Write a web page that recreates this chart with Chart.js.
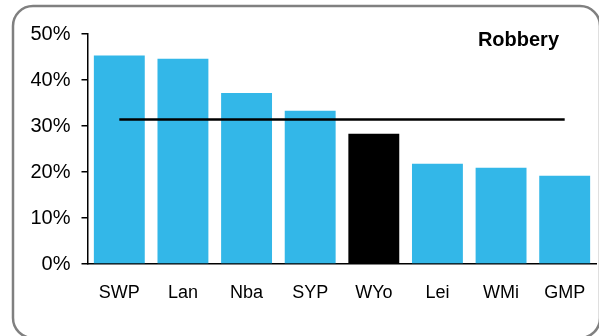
<!DOCTYPE html>
<html lang="en">
<head>
    <meta charset="UTF-8">
    <title>Robbery</title>
    <script src="https://cdn.jsdelivr.net/npm/chart.js"></script>
    <style>
        html, body { margin: 0; padding: 0; background: #ffffff; }
        #wrap { position: relative; width: 599px; height: 336px; }
    </style>
</head>
<body>
    <div id="wrap">
        <canvas id="robberyChart" width="599" height="336"></canvas>
    </div>

    <script>
        // data
        const forces = ['SWP', 'Lan', 'Nba', 'SYP', 'WYo', 'Lei', 'WMi', 'GMP'];
        const robberyRate = [45.3, 44.6, 37.2, 33.3, 28.3, 21.8, 20.9, 19.2];
        const averageRate = [31.4, 31.4, 31.4, 31.4, 31.4, 31.4, 31.4, 31.4];
        const yTicks = [0, 10, 20, 30, 40, 50];
        const highlight = 'WYo';
        const chartTitle = 'Robbery';

        const barColours = forces.map(f => f === highlight ? '#000000' : '#33b7e8');

        // rounded grey frame + title in the corner
        const framePlugin = {
            id: 'frame',
            beforeDraw(chart) {
                const c = chart.ctx;
                c.save();
                c.strokeStyle = '#808080';
                c.lineWidth = 2.5;
                const x = 13, y = 6, w = 587, h = 332, r = 20;
                c.beginPath();
                c.moveTo(x + r, y);
                c.lineTo(x + w - r, y);
                c.arcTo(x + w, y, x + w, y + r, r);
                c.lineTo(x + w, y + h - r);
                c.arcTo(x + w, y + h, x + w - r, y + h, r);
                c.lineTo(x + r, y + h);
                c.arcTo(x, y + h, x, y + h - r, r);
                c.lineTo(x, y + r);
                c.arcTo(x, y, x + r, y, r);
                c.stroke();
                c.restore();
            },
            afterDraw(chart) {
                const c = chart.ctx;
                c.save();
                c.font = 'bold 20px "Liberation Sans", Arial, sans-serif';
                c.fillStyle = '#000000';
                c.textAlign = 'right';
                c.textBaseline = 'alphabetic';
                c.fillText(chartTitle, 559, 46);
                c.restore();
            }
        };

        const ctx = document.getElementById('robberyChart').getContext('2d');
        const robberyChart = new Chart(ctx, {
            type: 'bar',
            data: {
                labels: forces,
                datasets: [{
                    type: 'line',
                    label: 'Average',
                    data: averageRate,
                    borderColor: '#000000',
                    borderWidth: 2.5,
                    pointRadius: 0,
                    fill: false,
                    order: 0
                }, {
                    label: chartTitle,
                    data: robberyRate,
                    backgroundColor: barColours,
                    borderWidth: 0,
                    barPercentage: 0.8,
                    categoryPercentage: 1,
                    order: 1
                }]
            },
            options: {
                responsive: false,
                animation: false,
                layout: {
                    padding: { top: 34, right: 2.5, bottom: 0, left: 0 }
                },
                plugins: {
                    legend: { display: false },
                    tooltip: { enabled: false }
                },
                scales: {
                    x: {
                        grid: { display: false },
                        border: { display: true, color: '#000000', width: 1.5 },
                        ticks: {
                            color: '#000000',
                            padding: 10,
                            font: { family: '"Liberation Sans", Arial, sans-serif', size: 18 }
                        },
                        afterFit(scale) { scale.height = 72; }
                    },
                    y: {
                        min: 0,
                        max: 50,
                        afterBuildTicks(scale) { scale.ticks = yTicks.map(v => ({ value: v })); },
                        grid: { drawOnChartArea: false, drawTicks: true, tickLength: 6, color: '#000000', lineWidth: 1.5 },
                        border: { display: true, color: '#000000', width: 1.5 },
                        ticks: {
                            color: '#000000',
                            padding: 11,
                            font: { family: '"Liberation Sans", Arial, sans-serif', size: 20 },
                            callback: v => v + '%'
                        },
                        afterFit(scale) { scale.width = 87.5; }
                    }
                }
            },
            plugins: [framePlugin]
        });
    </script>
</body>
</html>
